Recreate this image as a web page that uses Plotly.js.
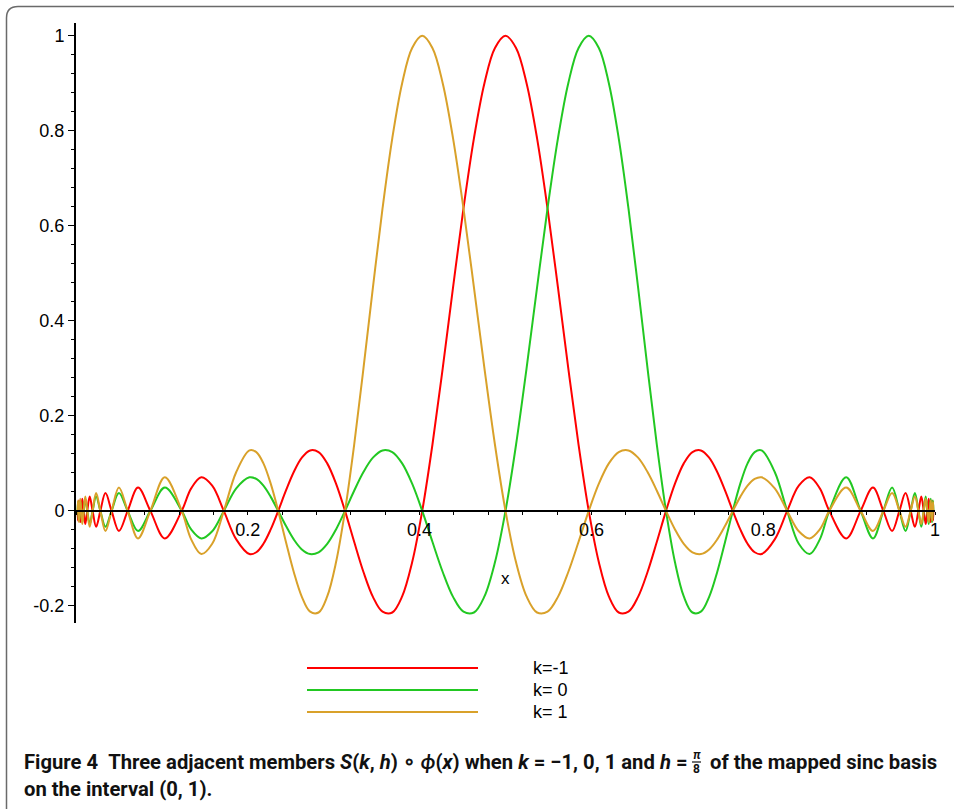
<!DOCTYPE html>
<html><head><meta charset="utf-8">
<script src="https://cdn.plot.ly/plotly-3.0.1.min.js"></script>
<style>html,body{margin:0;padding:0;background:#fff}#chart{width:954px;height:809px}</style>
</head><body><div id="chart"></div>
<script>
const xValues = [
0.00187,0.00227,0.00276,0.00336,0.00408,0.00496,0.00603,0.00733,0.00890,0.01081,0.01313,
0.01593,0.01932,0.02342,0.02835,0.03429,0.04142,0.04996,0.06014,0.07225,0.08657,0.10340,
0.12309,0.13409,0.14590,0.15857,0.17210,0.18656,
0.20192,0.20993,0.21819,0.22667,0.23540,0.24434,0.25352,0.26292,0.27255,0.28239,0.29244,0.30270,
0.31316,0.32382,0.33465,0.34567,0.35685,0.36819,0.37969,0.39131,0.40307,0.41493,0.42690,0.43894,
0.45107,0.46325,0.47548,0.48773,0.50000,0.51227,0.52452,0.53675,0.54893,0.56106,0.57310,0.58507,
0.59693,0.60869,0.62031,0.63181,0.64315,0.65434,0.66535,0.67619,0.68684,0.69730,0.70756,0.71761,
0.72745,0.73708,0.74648,0.75566,0.76460,0.77333,0.78181,0.79007,0.79808,
0.81344,0.82790,0.84143,0.85410,0.86591,0.87691,
0.89660,0.91343,0.92775,0.93986,0.95004,0.95858,0.96571,0.97165,0.97658,0.98068,0.98407,
0.98687,0.98919,0.99110,0.99267,0.99397,0.99504,0.99592,0.99664,0.99724,0.99773,0.99813];

const seriesNames = ['k=-1', 'k= 0', 'k= 1'];

// red curve (peak at x = 0.5)
const yRed = [
0,-0.0205,0,0.0220,0,-0.0236,0,0.0255,0,-0.0277,0,0.0303,0,-0.0335,0,0.0374,0,-0.0424,0,0.0490,0,-0.0579,
0,0.0474,0.0707,0.0530,0,-0.0600,
-0.0909,-0.0871,-0.0693,-0.0390,0,0.0424,0.0818,0.1120,0.1273,0.1238,0.1000,0.0573,0,-0.0650,-0.1286,-0.1810,
-0.2122,-0.2139,-0.1801,-0.1083,0,0.1392,0.3001,0.4705,0.6366,0.7842,0.9003,0.9745,
1,
0.9745,0.9003,0.7842,0.6366,0.4705,0.3001,0.1392,0,-0.1083,-0.1801,-0.2139,-0.2122,
-0.1810,-0.1286,-0.0650,0,0.0573,0.1000,0.1238,0.1273,0.1120,0.0818,0.0424,0,-0.0390,-0.0693,-0.0871,-0.0909,
-0.0600,0,0.0530,0.0707,0.0474,0,
-0.0579,0,0.0490,0,-0.0424,0,0.0374,0,-0.0335,0,0.0303,0,-0.0277,0,0.0255,0,-0.0236,0,0.0220,0,-0.0205,0];

// green curve (peak at x = 0.6)
const yGreen = [
0,0.0193,0,-0.0205,0,0.0220,0,-0.0236,0,0.0255,0,-0.0277,0,0.0303,0,-0.0335,0,0.0374,0,-0.0424,0,0.0490,
0,-0.0391,-0.0579,-0.0429,0,0.0474,
0.0707,0.0672,0.0530,0.0295,0,-0.0314,-0.0600,-0.0811,-0.0909,-0.0871,-0.0693,-0.0390,0,0.0424,0.0818,0.1120,
0.1273,0.1238,0.1000,0.0573,0,-0.0650,-0.1286,-0.1810,-0.2122,-0.2139,-0.1801,-0.1083,0,0.1392,0.3001,0.4705,
0.6366,0.7842,0.9003,0.9745,1,0.9745,0.9003,0.7842,0.6366,0.4705,0.3001,0.1392,0,-0.1083,-0.1801,-0.2139,
-0.2122,-0.1810,-0.1286,-0.0650,0,0.0573,0.1000,0.1238,0.1273,
0.0818,0,-0.0693,-0.0909,-0.0600,0,
0.0707,0,-0.0579,0,0.0490,0,-0.0424,0,0.0374,0,-0.0335,0,0.0303,0,-0.0277,0,0.0255,0,-0.0236,0,0.0220,0];

// orange curve (peak at x = 0.4)
const yOrange = [
0,0.0220,0,-0.0236,0,0.0255,0,-0.0277,0,0.0303,0,-0.0335,0,0.0374,0,-0.0424,0,0.0490,0,-0.0579,0,0.0707,
0,-0.0600,-0.0909,-0.0693,0,0.0818,
0.1273,0.1238,0.1000,0.0573,0,-0.0650,-0.1286,-0.1810,-0.2122,-0.2139,-0.1801,-0.1083,0,0.1392,0.3001,0.4705,
0.6366,0.7842,0.9003,0.9745,1,0.9745,0.9003,0.7842,0.6366,0.4705,0.3001,0.1392,0,-0.1083,-0.1801,-0.2139,
-0.2122,-0.1810,-0.1286,-0.0650,0,0.0573,0.1000,0.1238,0.1273,0.1120,0.0818,0.0424,0,-0.0390,-0.0693,-0.0871,
-0.0909,-0.0811,-0.0600,-0.0314,0,0.0295,0.0530,0.0672,0.0707,
0.0474,0,-0.0429,-0.0579,-0.0391,0,
0.0490,0,-0.0424,0,0.0374,0,-0.0335,0,0.0303,0,-0.0277,0,0.0255,0,-0.0236,0,0.0220,0,-0.0205,0,0.0193,0];

const xTickVals = [0.2, 0.4, 0.6, 0.8, 1];
const xTickText = ['0.2', '0.4', '0.6', '0.8', '1'];
const yTickVals = [-0.2, 0, 0.2, 0.4, 0.6, 0.8, 1];
const yTickText = ['-0.2', '0', '0.2', '0.4', '0.6', '0.8', '1'];

const captionA = 'Figure 4\u00a0\u00a0Three adjacent members <i>S</i>(<i>k</i>,\u00a0<i>h</i>) \u2218 <i>\u03d5</i>(<i>x</i>) when <i>k</i> = \u22121,\u00a00,\u00a01 and <i>h</i> =';
const captionB = 'of the mapped sinc basis';
const captionLine2 = 'on the interval (0,\u00a01).';

// ---- layout geometry ----
const W = 954, H = 809;
const M = {l: 76, r: 19, t: 23, b: 186};
const PW = W - M.l - M.r, PH = H - M.t - M.b;
const xRange = [0, 1], yRange = [-0.236, 1.027];
const px = p => (p - M.l) / PW;
const py = p => (M.t + PH - p) / PH;

const colors = ['#ff0000', '#22c822', '#d9a12a'];
const ys = [yRed, yGreen, yOrange];
const traces = ys.map((y, i) => ({
  x: xValues, y: y, type: 'scatter', mode: 'lines', name: seriesNames[i],
  line: {color: colors[i], width: 2, shape: 'spline', smoothing: 1},
  hoverinfo: 'skip', showlegend: false
}));

const tickFont = {family: 'Liberation Sans, Arial, sans-serif', size: 18, color: '#000'};
const capFamily = 'Roboto, Lato, sans-serif';

function measure(html, size) {
  const s = document.createElement('span');
  s.style.cssText = 'position:absolute;visibility:hidden;white-space:pre;font-weight:bold;font-size:' + size + 'px;font-family:' + capFamily;
  s.innerHTML = html;
  document.body.appendChild(s);
  const w = s.getBoundingClientRect().width;
  s.remove();
  return w;
}
// fit first caption line between x=22 and x=935
const fracW = 10, gap = 6;
const wTotal20 = measure(captionA, 20) + measure(captionB, 20);
const capSize = Math.max(15, Math.min(21, 20 * (935 - 22 - fracW - 2 * gap) / wTotal20));
const wA = measure(captionA, capSize);
const fracX = 22 + wA + gap + fracW / 2;
const bX = 22 + wA + gap + fracW + gap;
const capFont = {family: capFamily, size: capSize, color: '#111'};
const line1Y = 762, line2Y = 789;

const shapes = [];
const annotations = [];
// legend (drawn manually: long sample lines)
const legY = [668, 690, 712];
seriesNames.forEach((n, i) => {
  shapes.push({type: 'line', xref: 'paper', yref: 'paper', x0: px(307), x1: px(478), y0: py(legY[i]), y1: py(legY[i]),
    line: {color: colors[i], width: 2}});
  annotations.push({xref: 'paper', yref: 'paper', x: px(531), y: py(legY[i]), xanchor: 'left', yanchor: 'middle',
    text: n, showarrow: false, font: tickFont});
});
// x-axis label
annotations.push({xref: 'paper', yref: 'paper', x: px(505), y: py(578), xanchor: 'center', yanchor: 'middle',
  text: 'x', showarrow: false, font: {family: 'Liberation Sans, Arial, sans-serif', size: 17, color: '#000'}});
// caption
annotations.push({xref: 'paper', yref: 'paper', x: px(22), y: py(line1Y), xanchor: 'left', yanchor: 'middle',
  text: '<b>' + captionA + '</b>', showarrow: false, font: capFont});
annotations.push({xref: 'paper', yref: 'paper', x: px(fracX), y: py(line1Y - 7), xanchor: 'center', yanchor: 'middle',
  text: '<b><i>\u03c0</i></b>', showarrow: false, font: {family: capFamily, size: 12, color: '#111'}});
annotations.push({xref: 'paper', yref: 'paper', x: px(fracX), y: py(line1Y + 7), xanchor: 'center', yanchor: 'middle',
  text: '<b>8</b>', showarrow: false, font: {family: capFamily, size: 12, color: '#111'}});
shapes.push({type: 'line', xref: 'paper', yref: 'paper', x0: px(fracX - 4.5), x1: px(fracX + 4.5), y0: py(line1Y), y1: py(line1Y),
  line: {color: '#111', width: 1.2}});
annotations.push({xref: 'paper', yref: 'paper', x: px(bX), y: py(line1Y), xanchor: 'left', yanchor: 'middle',
  text: '<b>' + captionB + '</b>', showarrow: false, font: capFont});
annotations.push({xref: 'paper', yref: 'paper', x: px(22), y: py(line2Y), xanchor: 'left', yanchor: 'middle',
  text: '<b>' + captionLine2 + '</b>', showarrow: false, font: capFont});

// frame (rounded corner at top-left)
shapes.push({type: 'path', xref: 'paper', yref: 'paper',
  path: `M ${px(954)} ${py(6.5)} L ${px(18)} ${py(6.5)} Q ${px(6.5)} ${py(6.5)} ${px(6.5)} ${py(18)} L ${px(6.5)} ${py(809)}`,
  line: {color: '#6a6a6a', width: 1.5}});

const layout = {
  width: W, height: H, margin: M, paper_bgcolor: '#fff', plot_bgcolor: 'rgba(0,0,0,0)', showlegend: false,
  xaxis: {
    range: xRange, anchor: 'free', position: (0 - yRange[0]) / (yRange[1] - yRange[0]),
    showline: true, linecolor: '#000', linewidth: 2, showgrid: false, zeroline: false,
    ticks: 'outside', ticklen: 3, tickwidth: 1, tickcolor: '#000',
    tickmode: 'array', tickvals: xTickVals, ticktext: xTickText, tickfont: tickFont,
    minor: {dtick: 0.04, tick0: 0, ticks: 'outside', ticklen: 3, tickcolor: '#000', tickwidth: 1, showgrid: false}
  },
  yaxis: {
    range: yRange, showline: true, linecolor: '#000', linewidth: 2, showgrid: false, zeroline: false,
    ticks: 'outside', ticklen: 6, tickwidth: 1, tickcolor: '#000',
    tickmode: 'array', tickvals: yTickVals, ticktext: yTickText, tickfont: tickFont,
    minor: {dtick: 0.04, tick0: 0, ticks: 'outside', ticklen: 3, tickcolor: '#000', tickwidth: 1, showgrid: false}
  },
  shapes: shapes, annotations: annotations
};

Plotly.newPlot('chart', traces, layout, {displayModeBar: false, staticPlot: true});
</script>
</body></html>
